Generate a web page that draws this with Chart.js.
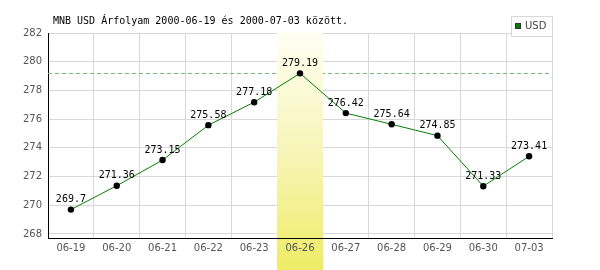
<!DOCTYPE html>
<html>
<head>
<meta charset="utf-8">
<script src="https://cdn.jsdelivr.net/npm/chart.js@4.4.1/dist/chart.umd.min.js"></script>
<style>
  html, body { margin: 0; padding: 0; background: #fff; }
  #wrap { width: 600px; height: 270px; }
</style>
</head>
<body>
<div id="wrap"><canvas id="rateChart" width="600" height="270"></canvas></div>
<script>
const labels = ['06-19', '06-20', '06-21', '06-22', '06-23', '06-26', '06-27', '06-28', '06-29', '06-30', '07-03'];
const usdRates = [269.7, 271.36, 273.15, 275.58, 277.18, 279.19, 276.42, 275.64, 274.85, 271.33, 273.41];
const valueTexts = ['269.7', '271.36', '273.15', '275.58', '277.18', '279.19', '276.42', '275.64', '274.85', '271.33', '273.41'];
const yTicks = [268, 270, 272, 274, 276, 278, 280, 282];
const highlightIndex = 5;
const titleText = 'MNB USD Árfolyam 2000-06-19 és 2000-07-03 között.';
const seriesName = 'USD';

const monoFont = '10px "DejaVu Sans Mono", monospace';
const tickColor = '#555';

// sáv, szaggatott max vonal, alsó tengely
const bandPlugin = {
    id: 'band',
    beforeDatasetsDraw(chart) {
        const ctx = chart.ctx;
        const area = chart.chartArea;
        const x = chart.scales.x;
        const y = chart.scales.y;

        // szaggatott vonal a maximumnál
        const maxY = Math.round(y.getPixelForValue(Math.max(...usdRates))) + 0.5;
        ctx.save();
        ctx.strokeStyle = '#6fbf6f';
        ctx.lineWidth = 1;
        ctx.setLineDash([4, 3]);
        ctx.beginPath();
        ctx.moveTo(area.left, maxY);
        ctx.lineTo(area.right, maxY);
        ctx.stroke();
        ctx.restore();

        // kiemelt nap
        const half = (x.getPixelForValue(1) - x.getPixelForValue(0)) / 2;
        const cx = x.getPixelForValue(highlightIndex);
        const top = area.top - 1;
        const bottom = chart.height;
        const grad = ctx.createLinearGradient(0, top, 0, bottom);
        grad.addColorStop(0, '#fffff4');
        grad.addColorStop(0.5, '#f7f5b8');
        grad.addColorStop(1, '#efec66');
        ctx.save();
        ctx.fillStyle = grad;
        ctx.fillRect(Math.round(cx - half), top, Math.round(half * 2), bottom - top);
        ctx.restore();

        // alsó tengely vonal
        ctx.save();
        ctx.strokeStyle = '#000';
        ctx.lineWidth = 1;
        ctx.beginPath();
        ctx.moveTo(area.left, Math.round(area.bottom) + 0.5);
        ctx.lineTo(area.right + 1, Math.round(area.bottom) + 0.5);
        ctx.stroke();

        // kiemelt címke újra
        ctx.fillStyle = tickColor;
        ctx.font = '10px "DejaVu Sans", sans-serif';
        ctx.textAlign = 'center';
        ctx.textBaseline = 'middle';
        ctx.fillText(labels[highlightIndex], cx, 248);
        ctx.restore();
    }
};

// értékek a pontok felett, cím, jelmagyarázat
const textPlugin = {
    id: 'texts',
    afterDatasetsDraw(chart) {
        const ctx = chart.ctx;
        const meta = chart.getDatasetMeta(0);
        ctx.save();
        ctx.font = monoFont;
        ctx.fillStyle = '#000';
        ctx.textAlign = 'center';
        ctx.textBaseline = 'middle';
        meta.data.forEach((pt, i) => {
            ctx.fillText(valueTexts[i], pt.x, pt.y - 10);
        });

        ctx.textAlign = 'left';
        ctx.fillText(titleText, 53, 21);

        // legend doboz
        ctx.fillStyle = '#fff';
        ctx.fillRect(511, 16, 41, 20);
        ctx.strokeStyle = '#d8d8d8';
        ctx.strokeRect(511.5, 16.5, 41, 20);
        ctx.fillStyle = '#008000';
        ctx.fillRect(515, 23, 6, 6);
        ctx.strokeStyle = '#333';
        ctx.strokeRect(515.5, 23.5, 5, 5);
        ctx.fillStyle = '#444';
        ctx.font = '10px "DejaVu Sans", sans-serif';
        ctx.fillText(seriesName, 525, 26.5);
        ctx.restore();
    }
};

new Chart(document.getElementById('rateChart'), {
    type: 'line',
    data: {
        labels: labels,
        datasets: [{
            label: seriesName,
            data: usdRates,
            borderColor: '#008000',
            borderWidth: 1,
            pointRadius: 3.2,
            pointHoverRadius: 3.2,
            pointBackgroundColor: '#000',
            pointBorderColor: '#000',
            pointBorderWidth: 0,
            tension: 0
        }]
    },
    options: {
        responsive: false,
        animation: false,
        devicePixelRatio: 1,
        layout: { padding: { left: 0, right: 48, top: 33, bottom: 0 } },
        plugins: {
            legend: { display: false },
            tooltip: { enabled: false }
        },
        scales: {
            x: {
                offset: true,
                grid: { color: '#d8d8d8', drawTicks: false, offset: true },
                border: { display: false },
                ticks: {
                    color: tickColor,
                    padding: 4,
                    maxRotation: 0,
                    autoSkip: false,
                    font: { family: '"DejaVu Sans", sans-serif', size: 10 }
                },
                afterFit(scale) { scale.height = 32; }
            },
            y: {
                min: 267.72,
                max: 282,
                grid: { color: '#d8d8d8', drawTicks: false },
                border: { color: '#000', width: 1 },
                ticks: {
                    color: tickColor,
                    padding: 6,
                    font: { family: '"DejaVu Sans", sans-serif', size: 10 }
                },
                afterBuildTicks(scale) {
                    scale.ticks = yTicks.map(v => ({ value: v }));
                },
                afterFit(scale) { scale.width = 48; }
            }
        }
    },
    plugins: [bandPlugin, textPlugin]
});
</script>
</body>
</html>
